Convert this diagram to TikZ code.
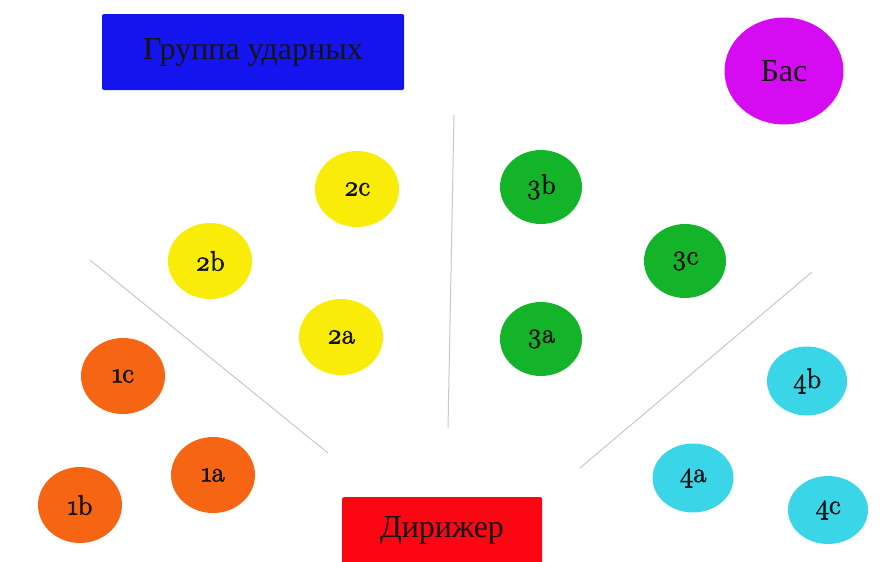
\documentclass[tikz,border=0pt]{standalone}
\usepackage{fontspec}
\setmainfont{Liberation Serif}
\newfontfamily\labelfont{Latin Modern Roman}[Numbers=OldStyle,FakeBold=2.5]
\definecolor{cblue}{HTML}{1414EE}
\definecolor{cmag}{HTML}{D50CF2}
\definecolor{cyel}{HTML}{F8EC08}
\definecolor{corg}{HTML}{F56513}
\definecolor{cgrn}{HTML}{14B42A}
\definecolor{ccyan}{HTML}{3AD6E8}
\definecolor{cred}{HTML}{FB0612}
\definecolor{cline}{HTML}{C8C8C8}
\definecolor{ctext}{HTML}{141414}
\tikzset{
  seat/.style={ellipse, minimum width=84pt, minimum height=76pt, inner sep=0pt, text=ctext, font=\labelfont\fontsize{28}{30}\selectfont},
  board/.style={rectangle, rounded corners=1.5pt, inner sep=0pt, text=ctext, font=\fontsize{32}{34}\selectfont},
  divider/.style={draw=cline, line width=1pt}
}
\usetikzlibrary{shapes.geometric}
\begin{document}
\begin{tikzpicture}[x=1pt,y=-1pt]
\useasboundingbox (0,0) rectangle (881,562);
% dividers
\coordinate (l1a) at (90,260); \coordinate (l1b) at (328,453);
\coordinate (l2a) at (454,115); \coordinate (l2b) at (448,428);
\coordinate (l3a) at (812,272); \coordinate (l3b) at (580,468);
\draw[divider] (l1a) -- (l1b);
\draw[divider] (l2a) -- (l2b);
\draw[divider] (l3a) -- (l3b);
% boards
\node[board, fill=cblue, minimum width=302pt, minimum height=76pt] (perc) at (253,52) {Группа ударных};
\node[board, fill=cred, minimum width=200pt, minimum height=75pt, anchor=north west] (cond) at (342,497) {};
\node[text=ctext, font=\fontsize{32}{34}\selectfont] (condt) at (442,530) {Дирижер};
\node[ellipse, fill=cmag, minimum width=119pt, minimum height=107pt, inner sep=0pt, text=ctext, font=\fontsize{32}{34}\selectfont] (bass) at (784,71) {Бас};
% group 1
\node[seat, fill=corg] (s1c) at (123,376) {1c};
\node[seat, fill=corg] (s1a) at (213,475) {1a};
\node[seat, fill=corg] (s1b) at (80,505) {1b};
% group 2
\node[seat, fill=cyel] (s2c) at (357,189) {2c};
\node[seat, fill=cyel] (s2b) at (210,261) {2b};
\node[seat, fill=cyel] (s2a) at (341,337) {2a};
% group 3
\node[seat, fill=cgrn, minimum width=82pt, minimum height=74pt] (s3b) at (541,187) {3b};
\node[seat, fill=cgrn, minimum width=82pt, minimum height=74pt] (s3c) at (685,261) {3c};
\node[seat, fill=cgrn, minimum width=82pt, minimum height=74pt] (s3a) at (541,339) {3a};
% group 4
\node[seat, fill=ccyan, minimum width=80pt, minimum height=69pt] (s4b) at (807,381) {4b};
\node[seat, fill=ccyan, minimum width=81pt, minimum height=69pt] (s4a) at (693,478) {4a};
\node[seat, fill=ccyan, minimum width=80pt, minimum height=68pt] (s4c) at (828,510) {4c};
\end{tikzpicture}
\end{document}
